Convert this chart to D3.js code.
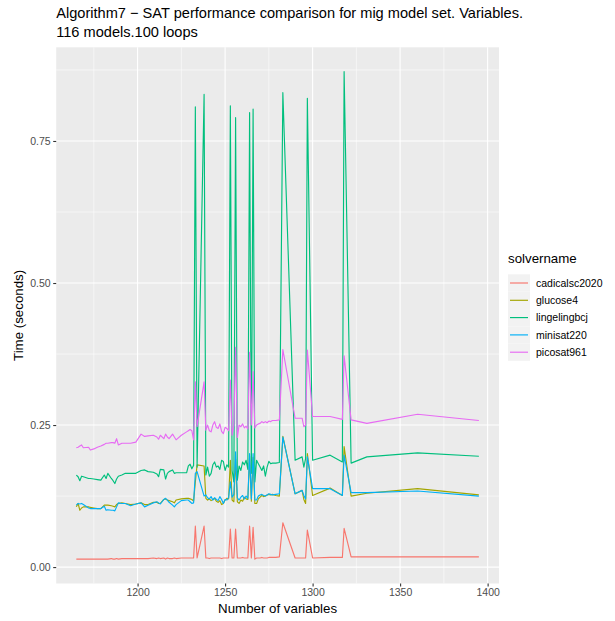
<!DOCTYPE html>
<html>
<head>
<meta charset="utf-8">
<script src="https://cdn.jsdelivr.net/npm/d3@7"></script>
<style>
  body { margin: 0; background: #fff; }
  svg { display: block; }
  text { font-family: "Liberation Sans", Arial, Helvetica, sans-serif; }
</style>
</head>
<body>
<svg id="chart" width="615" height="621"></svg>
<script>
// solver names and ggplot default hue colours
const solvers = ['cadicalsc2020', 'glucose4', 'lingelingbcj', 'minisat220', 'picosat961'];
const solverColors = ['#F8766D', '#A3A500', '#00BF7D', '#00B0F6', '#E76BF3'];

// number of variables (x)
const variables = [
  1165, 1166, 1167, 1168, 1169, 1172, 1173, 1175, 1177, 1179, 1181, 1182, 1183, 1185, 1186, 1187, 1188, 1189, 1191, 1193,
  1196, 1199, 1202, 1204, 1206, 1209, 1211, 1212, 1213, 1215, 1216, 1217, 1218, 1220, 1221, 1222, 1225, 1228, 1229, 1230, 1231,
  1232, 1233, 1234, 1238, 1239, 1240, 1241, 1242, 1243, 1244, 1245, 1246, 1247, 1248, 1249, 1250, 1251, 1252,
  1253, 1254, 1255, 1256, 1257, 1258, 1259, 1260, 1261, 1262, 1263, 1264, 1265, 1266,
  1267, 1268, 1269, 1270, 1271, 1272, 1273, 1274, 1275, 1276, 1277, 1279, 1281,
  1283, 1290, 1294, 1295, 1296, 1297, 1300, 1310, 1317, 1318, 1322, 1331, 1360, 1395
];

// time in seconds, one array per solver
const cadicalsc2020 = [
  .014, .014, .014, .014, .014, .014, .014, .014, .014, .014, .014, .014, .014, .015, .014, .014, .015, .014, .015, .015,
  .015, .015, .015, .015, .015, .016, .015, .016, .015, .016, .014, .016, .015, .015, .016, .015, .016, .016, .016, .016, .016,
  .016, .072, .016, .072, .016, .016, .015, .016, .016, .016, .016, .016, .016, .015, .016, .016, .016, .016,
  .067, .016, .016, .067, .016, .016, .016, .017, .016, .016, .016, .072, .016, .070,
  .014, .016, .016, .016, .017, .016, .016, .016, .017, .017, .017, .017, .018,
  .078, .016, .016, .016, .016, .065, .016, .017, .017, .068, .018, .018, .018, .018
];
const glucose4 = [
  .106, .112, .100, .104, .106, .106, .105, .104, .103, .103, .109, .109, .109, .108, .107, .106, .110, .112, .113, .112,
  .110, .111, .113, .110, .110, .114, .114, .112, .112, .119, .120, .118, .117, .115, .113, .118, .120, .121, .121, .120, .119,
  .116, .150, .180, .178, .121, .118, .120, .117, .119, .121, .116, .114, .117, .110, .112, .118, .121, .120,
  .188, .118, .115, .190, .115, .112, .118, .116, .123, .120, .119, .195, .116, .193,
  .112, .112, .120, .123, .126, .124, .125, .127, .128, .127, .128, .126, .125,
  .230, .129, .135, .119, .112, .200, .126, .139, .126, .212, .125, .130, .138, .127
];
const lingelingbcj = [
  .162, .159, .152, .160, .159, .156, .156, .155, .154, .153, .162, .156, .165, .156, .152, .147, .155, .160, .162, .165,
  .165, .165, .170, .171, .168, .167, .164, .159, .172, .171, .155, .165, .168, .171, .165, .166, .166, .166, .178, .181, .173,
  .179, .810, .176, .832, .162, .176, .160, .165, .180, .185, .176, .178, .172, .188, .186, .170, .180, .176,
  .812, .170, .150, .791, .153, .178, .170, .185, .180, .188, .172, .800, .165, .806,
  .150, .188, .182, .176, .170, .178, .160, .176, .186, .182, .183, .183, .184,
  .835, .188, .194, .176, .191, .825, .188, .197, .185, .872, .183, .194, .201, .195
];
const minisat220 = [
  .109, .112, .111, .112, .110, .104, .103, .103, .103, .103, .107, .100, .101, .100, .100, .099, .106, .113, .112, .112,
  .108, .111, .113, .106, .109, .113, .115, .113, .111, .119, .121, .118, .114, .109, .106, .110, .117, .118, .118, .115, .112,
  .113, .165, .168, .125, .127, .122, .120, .124, .118, .122, .119, .117, .124, .119, .112, .119, .118, .122,
  .150, .123, .128, .203, .122, .118, .123, .126, .120, .125, .121, .200, .120, .200,
  .118, .118, .125, .127, .128, .126, .125, .127, .129, .128, .127, .128, .129,
  .229, .129, .135, .126, .120, .194, .138, .138, .126, .197, .131, .131, .134, .125
];
const picosat961 = [
  .210, .211, .213, .215, .210, .211, .206, .208, .211, .213, .216, .218, .218, .219, .219, .218, .226, .215, .218, .218,
  .218, .220, .234, .230, .231, .232, .229, .225, .232, .226, .234, .229, .226, .234, .229, .224, .232, .238, .240, .242, .240,
  .224, .326, .247, .326, .241, .250, .240, .238, .250, .256, .246, .244, .252, .239, .235, .246, .244, .240,
  .329, .232, .250, .387, .228, .250, .247, .252, .245, .248, .243, .378, .250, .344,
  .245, .250, .252, .253, .256, .254, .256, .254, .257, .256, .258, .258, .259,
  .383, .262, .262, .247, .250, .382, .265, .265, .260, .372, .259, .253, .269, .258
];

const xTicks = [1200, 1250, 1300, 1350, 1400];
const xMinor = [1175, 1225, 1275, 1325, 1375];
const yTicks = [0, 0.25, 0.5, 0.75];
const yMinor = [0.125, 0.375, 0.625, 0.875];

const series = [cadicalsc2020, glucose4, lingelingbcj, minisat220, picosat961];

const svg = d3.select('#chart');
const panel = { left: 56.2, right: 499, top: 47.3, bottom: 583.5 };

// ggplot style 5% expansion on both axes
const xExt = d3.extent(variables);
const xPad = (xExt[1] - xExt[0]) * 0.05;
const allTimes = series.flat();
const yExt = d3.extent(allTimes);
const yPad = (yExt[1] - yExt[0]) * 0.05;

const x = d3.scaleLinear().domain([xExt[0] - xPad, xExt[1] + xPad]).range([panel.left, panel.right]);
const y = d3.scaleLinear().domain([yExt[0] - yPad, yExt[1] + yPad]).range([panel.bottom, panel.top]);

// panel background
svg.append('rect')
  .attr('x', panel.left).attr('y', panel.top)
  .attr('width', panel.right - panel.left).attr('height', panel.bottom - panel.top)
  .attr('fill', '#EBEBEB');

const grid = svg.append('g');
xMinor.forEach(v => grid.append('line')
  .attr('x1', x(v)).attr('x2', x(v)).attr('y1', panel.top).attr('y2', panel.bottom)
  .attr('stroke', '#fff').attr('stroke-width', 0.55));
yMinor.forEach(v => grid.append('line')
  .attr('y1', y(v)).attr('y2', y(v)).attr('x1', panel.left).attr('x2', panel.right)
  .attr('stroke', '#fff').attr('stroke-width', 0.55));
xTicks.forEach(v => grid.append('line')
  .attr('x1', x(v)).attr('x2', x(v)).attr('y1', panel.top).attr('y2', panel.bottom)
  .attr('stroke', '#fff').attr('stroke-width', 1.1));
yTicks.forEach(v => grid.append('line')
  .attr('y1', y(v)).attr('y2', y(v)).attr('x1', panel.left).attr('x2', panel.right)
  .attr('stroke', '#fff').attr('stroke-width', 1.1));

// lines
const line = d3.line()
  .x((d, i) => x(variables[i]))
  .y(d => y(d));

series.forEach((vals, idx) => {
  svg.append('path')
    .datum(vals)
    .attr('d', line)
    .attr('fill', 'none')
    .attr('stroke', solverColors[idx])
    .attr('stroke-width', 1.15)
    .attr('stroke-linejoin', 'round');
});

// axes
const xAxis = svg.append('g')
  .attr('transform', `translate(0,${panel.bottom})`)
  .call(d3.axisBottom(x).tickValues(xTicks).tickSize(3).tickPadding(2.5).tickFormat(d3.format('d')));
const yAxis = svg.append('g')
  .attr('transform', `translate(${panel.left},0)`)
  .call(d3.axisLeft(y).tickValues(yTicks).tickSize(3).tickPadding(2.5).tickFormat(d3.format('.2f')));

[xAxis, yAxis].forEach(a => {
  a.select('.domain').remove();
  a.selectAll('.tick line').attr('stroke', '#333333').attr('stroke-width', 1.1);
  a.selectAll('.tick text').attr('fill', '#4D4D4D').style('font-size', '10.5px');
});

// titles
svg.append('text').attr('x', panel.left).attr('y', 18)
  .style('font-size', '14.6px').attr('fill', '#000')
  .text('Algorithm7 \u2212 SAT performance comparison for mig model set. Variables.');
svg.append('text').attr('x', panel.left).attr('y', 37)
  .style('font-size', '14.6px').attr('fill', '#000')
  .text('116 models.100 loops');

svg.append('text')
  .attr('x', (panel.left + panel.right) / 2).attr('y', 613)
  .attr('text-anchor', 'middle').style('font-size', '13.3px')
  .text('Number of variables');
svg.append('text')
  .attr('transform', `translate(23,${(panel.top + panel.bottom) / 2}) rotate(-90)`)
  .attr('text-anchor', 'middle').style('font-size', '13.3px')
  .text('Time (seconds)');

// legend
const legend = svg.append('g').attr('transform', 'translate(508,0)');
legend.append('text').attr('x', 0).attr('y', 263).style('font-size', '13.3px').text('solvername');
const keySize = 17.3;
const keyW = 22;
solvers.forEach((s, i) => {
  const cy = 283 + i * keySize;
  legend.append('rect')
    .attr('x', 0).attr('y', cy - keySize / 2)
    .attr('width', keyW).attr('height', keySize)
    .attr('fill', '#F2F2F2');
  legend.append('line')
    .attr('x1', 2).attr('x2', keyW - 2).attr('y1', cy).attr('y2', cy)
    .attr('stroke', solverColors[i]).attr('stroke-width', 1.15);
  legend.append('text')
    .attr('x', keyW + 6).attr('y', cy).attr('dy', '0.35em')
    .style('font-size', '10.5px').attr('fill', '#000')
    .text(s);
});
</script>
</body>
</html>
